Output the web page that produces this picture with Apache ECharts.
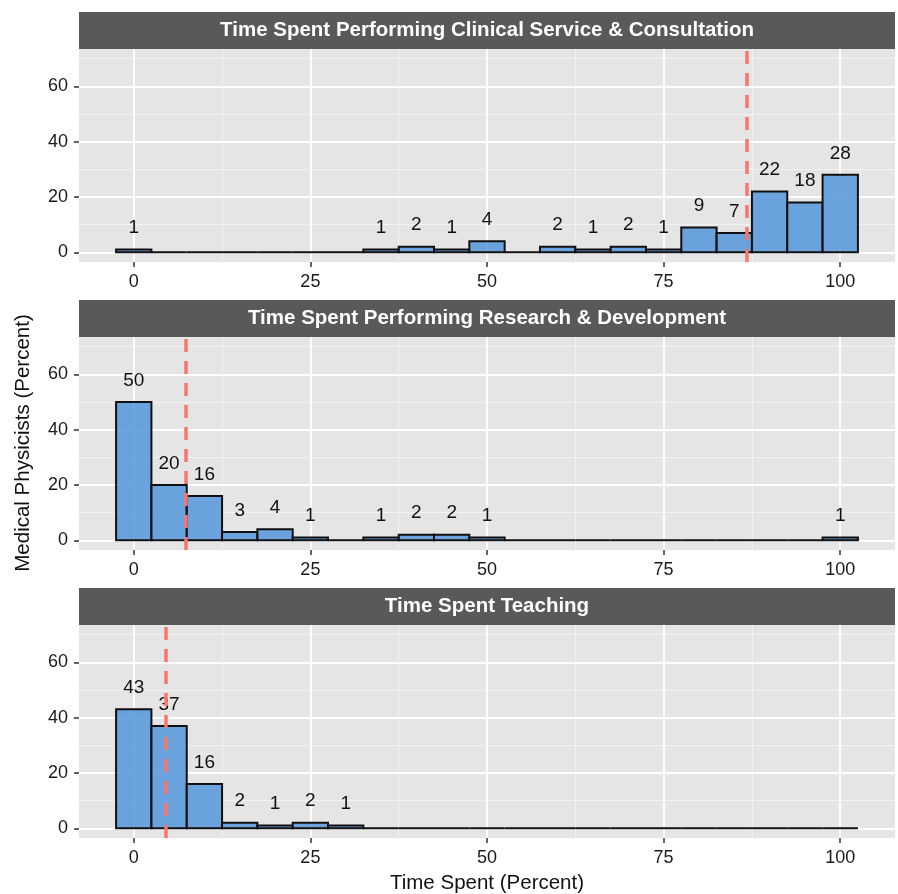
<!DOCTYPE html>
<html>
<head>
<meta charset="utf-8">
<script src="https://cdn.jsdelivr.net/npm/echarts@6/dist/echarts.min.js"></script>
<style>
  html, body { margin: 0; padding: 0; background: #fff; }
  #chart { width: 898px; height: 894px; }
</style>
</head>
<body>
<div id="chart"></div>
<script>
// bin centres (percent of time), width 5
const bins = [0, 5, 10, 15, 20, 25, 30, 35, 40, 45, 50, 55, 60, 65, 70, 75, 80, 85, 90, 95, 100]
const clinical = [1, 0, 0, 0, 0, 0, 0, 1, 2, 1, 4, 0, 2, 1, 2, 1, 9, 7, 22, 18, 28]
const research = [50, 20, 16, 3, 4, 1, 0, 1, 2, 2, 1, 0, 0, 0, 0, 0, 0, 0, 0, 0, 1]
const teaching = [43, 37, 16, 2, 1, 2, 1, 0, 0, 0, 0, 0, 0, 0, 0, 0, 0, 0, 0, 0, 0]
const means = [86.7, 7.3, 4.5]
const titles = [
  'Time Spent Performing Clinical Service & Consultation',
  'Time Spent Performing Research & Development',
  'Time Spent Teaching'
]
const xTicks = [0, 25, 50, 75, 100]
const xMinor = [12.5, 37.5, 62.5, 87.5]
const yTicks = [0, 20, 40, 60]
const yMinor = [10, 30, 50, 70]

const panels = [clinical, research, teaching]
const panelTops = [49, 337, 625]
const panelH = 213
const left = 79, right = 3
const binW = 5

const chart = echarts.init(document.getElementById('chart'))

const grids = [], xAxes = [], yAxes = [], series = [], graphics = []

const hiddenLine = { show: true, onZero: false, lineStyle: { color: 'rgba(0,0,0,0)' } }
const tickStyle = { color: '#333', width: 1.5 }
const labelStyle = { color: '#1a1a1a', fontSize: 18, fontFamily: 'Liberation Sans' }

panels.forEach((vals, i) => {
  grids.push({
    left: left, right: right, top: panelTops[i], height: panelH,
    show: true, backgroundColor: '#E5E5E5', borderWidth: 0
  })
  xAxes.push({
    type: 'value', gridIndex: i, min: -7.75, max: 107.75,
    axisLine: hiddenLine,
    axisTick: { show: true, length: 5, customValues: xTicks, lineStyle: tickStyle },
    axisLabel: { customValues: xTicks, margin: 11, ...labelStyle },
    splitLine: { show: false }
  })
  yAxes.push({
    type: 'value', gridIndex: i, min: -3.5, max: 73.5,
    axisLine: hiddenLine,
    axisTick: { show: true, length: 5, customValues: yTicks, lineStyle: tickStyle },
    axisLabel: { customValues: yTicks, margin: 11, ...labelStyle },
    splitLine: { show: false }
  })

  // grid lines
  const major = { color: '#fff', width: 1.8, type: 'solid' }
  const minor = { color: '#F2F2F2', width: 1, type: 'solid' }
  series.push({
    type: 'line', xAxisIndex: i, yAxisIndex: i, data: [], z: 1, silent: true,
    markLine: {
      z: 1, silent: true, symbol: ['none', 'none'], label: { show: false }, animation: false,
      data: [
        ...xMinor.map(v => ({ xAxis: v, lineStyle: minor })),
        ...yMinor.map(v => ({ yAxis: v, lineStyle: minor })),
        ...xTicks.map(v => ({ xAxis: v, lineStyle: major })),
        ...yTicks.map(v => ({ yAxis: v, lineStyle: major }))
      ]
    }
  })

  // histogram bars + count labels
  series.push({
    type: 'custom', xAxisIndex: i, yAxisIndex: i, z: 2,
    data: bins.map((b, k) => [b, vals[k]]),
    renderItem: (params, api) => {
      const x = api.value(0)
      const v = api.value(1)
      const p0 = api.coord([x - binW / 2, v])
      const p1 = api.coord([x + binW / 2, 0])
      const children = [{
        type: 'rect',
        shape: { x: p0[0], y: p0[1], width: p1[0] - p0[0], height: p1[1] - p0[1] },
        style: { fill: 'rgba(85,150,220,0.85)', stroke: '#111', lineWidth: 2 }
      }]
      if (v > 0) {
        const t = api.coord([x, v + 7.8])
        children.push({
          type: 'text',
          style: {
            text: String(v), x: t[0], y: t[1], align: 'center', verticalAlign: 'middle',
            fill: '#111', font: '19px "Liberation Sans", Arial, sans-serif'
          }
        })
      }
      return { type: 'group', children }
    }
  })

  // mean line
  series.push({
    type: 'line', xAxisIndex: i, yAxisIndex: i, data: [], z: 3, silent: true,
    markLine: {
      z: 6, silent: true, symbol: ['none', 'none'], label: { show: false }, animation: false,
      data: [{ xAxis: means[i] }],
      lineStyle: { color: '#F8766D', width: 3.5, type: [13, 9] }
    }
  })

  // facet strip
  graphics.push({
    type: 'rect', left: left, top: panelTops[i] - 37,
    shape: { width: 898 - left - right, height: 37 },
    style: { fill: '#595959' }
  })
  graphics.push({
    type: 'text', x: left + (898 - left - right) / 2, y: panelTops[i] - 18.5,
    style: {
      text: titles[i], align: 'center', verticalAlign: 'middle', fill: '#fff',
      font: 'bold 20.5px "Liberation Sans", Arial, sans-serif'
    }
  })
})

graphics.push({
  type: 'text', x: left + (898 - left - right) / 2, y: 883,
  style: {
    text: 'Time Spent (Percent)', align: 'center', verticalAlign: 'middle', fill: '#111',
    font: '20.5px "Liberation Sans", Arial, sans-serif'
  }
})
graphics.push({
  type: 'text', x: 23, y: 443, rotation: Math.PI / 2,
  style: {
    text: 'Medical Physicists (Percent)', align: 'center', verticalAlign: 'middle', fill: '#111',
    font: '20.5px "Liberation Sans", Arial, sans-serif'
  }
})

chart.setOption({
  animation: false,
  grid: grids,
  xAxis: xAxes,
  yAxis: yAxes,
  series: series,
  graphic: graphics
})
</script>
</body>
</html>
